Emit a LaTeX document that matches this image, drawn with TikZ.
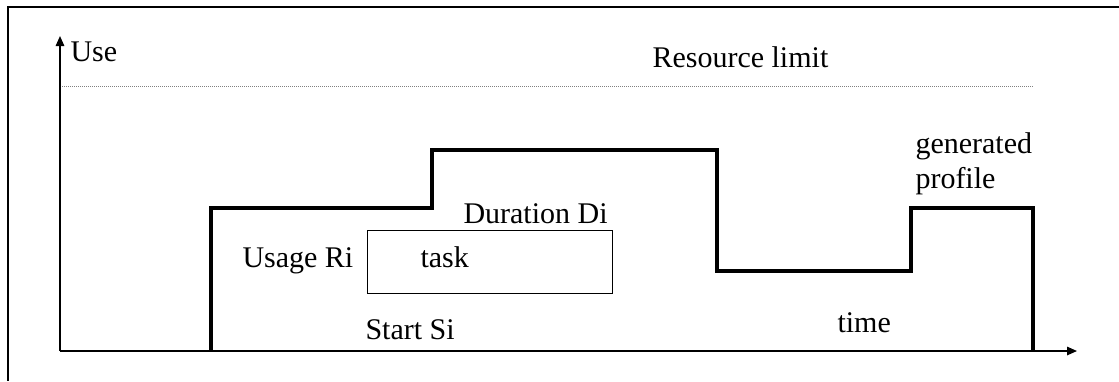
\documentclass[tikz,border=0pt]{standalone}
\usepackage{fontspec}
\setmainfont{Liberation Serif}
\usetikzlibrary{arrows.meta}

\begin{document}
\begin{tikzpicture}[
  x=0.4pt, y=-0.4pt,
  font=\fontsize{12}{14}\selectfont,
  lbl/.style={anchor=base west, inner sep=0pt},
  axis/.style={-{Triangle[length=4pt, width=3.4pt]}, line width=0.6pt},
  profile/.style={line width=1.6pt},
  taskbox/.style={draw, line width=0.45pt, minimum width=98pt, minimum height=25.2pt, inner sep=0pt},
  limit/.style={gray, line width=0.4pt, dash pattern=on 0.4pt off 0.4pt}]

\useasboundingbox (0,0) rectangle (1119,381);

% Frame (top and left edges only)
\coordinate (ftr) at (1119,6.5);
\coordinate (fbl) at (8,381);
\draw[line width=0.8pt] (ftr) -| (fbl);

% Axes
\coordinate (O) at (60,351);
\coordinate (ytop) at (60,36);
\coordinate (xend) at (1077,351);
\draw[axis] (O) -- (ytop);
\draw[axis] (O) -- (xend);
\node[lbl] (use) at (70,61) {Use};

% Resource limit
\coordinate (lim0) at (62,86);
\coordinate (lim1) at (1033,86);
\draw[limit] (lim0) -- (lim1);
\node[lbl] (limlbl) at (652,67) {Resource limit};

% Generated profile
\coordinate (p0) at (211,351);
\coordinate (p1) at (432,208);
\coordinate (p2) at (717,150);
\coordinate (p3) at (911,271);
\coordinate (p4) at (1033,208);
\coordinate (p5) at (1033,351);
\draw[profile] (p0) |- (p1) |- (p2) |- (p3) |- (p4) -- (p5);
\node[lbl] (gen) at (915,153) {generated};
\node[lbl] (prof) at (915,188) {profile};

% Task
\node[taskbox, anchor=north west] (task) at (367,230) {};
\node[lbl] (tasklbl) at (420,267) {task};
\node[lbl] (dur) at (463,223) {Duration Di};
\node[lbl] (usage) at (242,267) {Usage Ri};
\node[lbl] (start) at (365,339) {Start Si};
\node[lbl] (time) at (837,332) {time};
\end{tikzpicture}
\end{document}
